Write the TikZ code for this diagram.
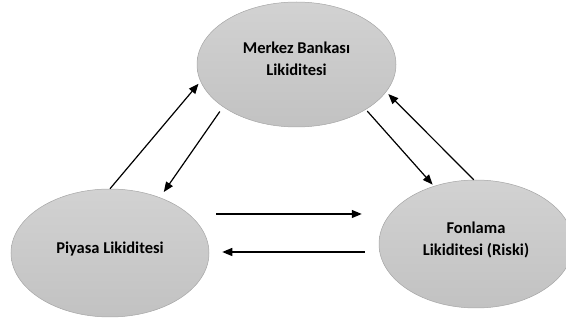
\documentclass[tikz,border=0pt]{standalone}
\usepackage{fontspec}
\setmainfont{Carlito}
\usepackage{xcolor}
\definecolor{ovaltop}{HTML}{D2D2D2}
\definecolor{ovalbot}{HTML}{C2C2C2}
\definecolor{ovalline}{HTML}{A6A6A6}
\definecolor{ink}{HTML}{000000}
\usepackage{tikz}
\usetikzlibrary{arrows.meta,shapes.geometric}
\tikzset{
  every picture/.style={font=\fontsize{16.5}{22}\selectfont\bfseries, line width=1.2pt},
  oval/.style={ellipse, draw=ovalline, line width=0.5pt, top color=ovaltop, bottom color=ovalbot,
    inner sep=0pt, align=center, text depth=11pt, minimum width=#1},
  oval/.default=198pt,
  arrow/.style={-{Triangle[length=10pt,width=8pt]}, draw=ink},
}

\begin{document}
\begin{tikzpicture}[x=1pt, y=-1pt]
  \useasboundingbox (0,0) rectangle (566,323);
  \node[oval=199pt, minimum height=125pt] (merkez) at (296.5,64.5) {Merkez Bankası\\Likiditesi};
  \node[oval=198pt, minimum height=128pt] (piyasa) at (110,253) {Piyasa Likiditesi};
  \node[oval=194pt, minimum height=128pt] (fonlama) at (476,244) {Fonlama\\Likiditesi (Riski)};
  % piyasa <-> merkez
  \draw[arrow, shorten >=3pt] (piyasa.north) -- (merkez.190.3);
  \draw[arrow, shorten <=5.6pt, shorten >=6.7pt] (merkez.210.8) -- (piyasa.48.6);
  % merkez <-> fonlama
  \draw[arrow, shorten <=2pt, shorten >=2pt] (merkez.327) -- (fonlama.126.6);
  \draw[arrow, shorten >=3pt] (fonlama.92.6) -- (merkez.343);
  % piyasa <-> fonlama
  \draw[arrow] ([xshift=7pt, yshift=39pt]piyasa.east) -- ([xshift=-17pt, yshift=30pt]fonlama.west);
  \draw[arrow] ([xshift=-14pt, yshift=-8pt]fonlama.west) -- ([xshift=13pt, yshift=1pt]piyasa.east);
\end{tikzpicture}
\end{document}
